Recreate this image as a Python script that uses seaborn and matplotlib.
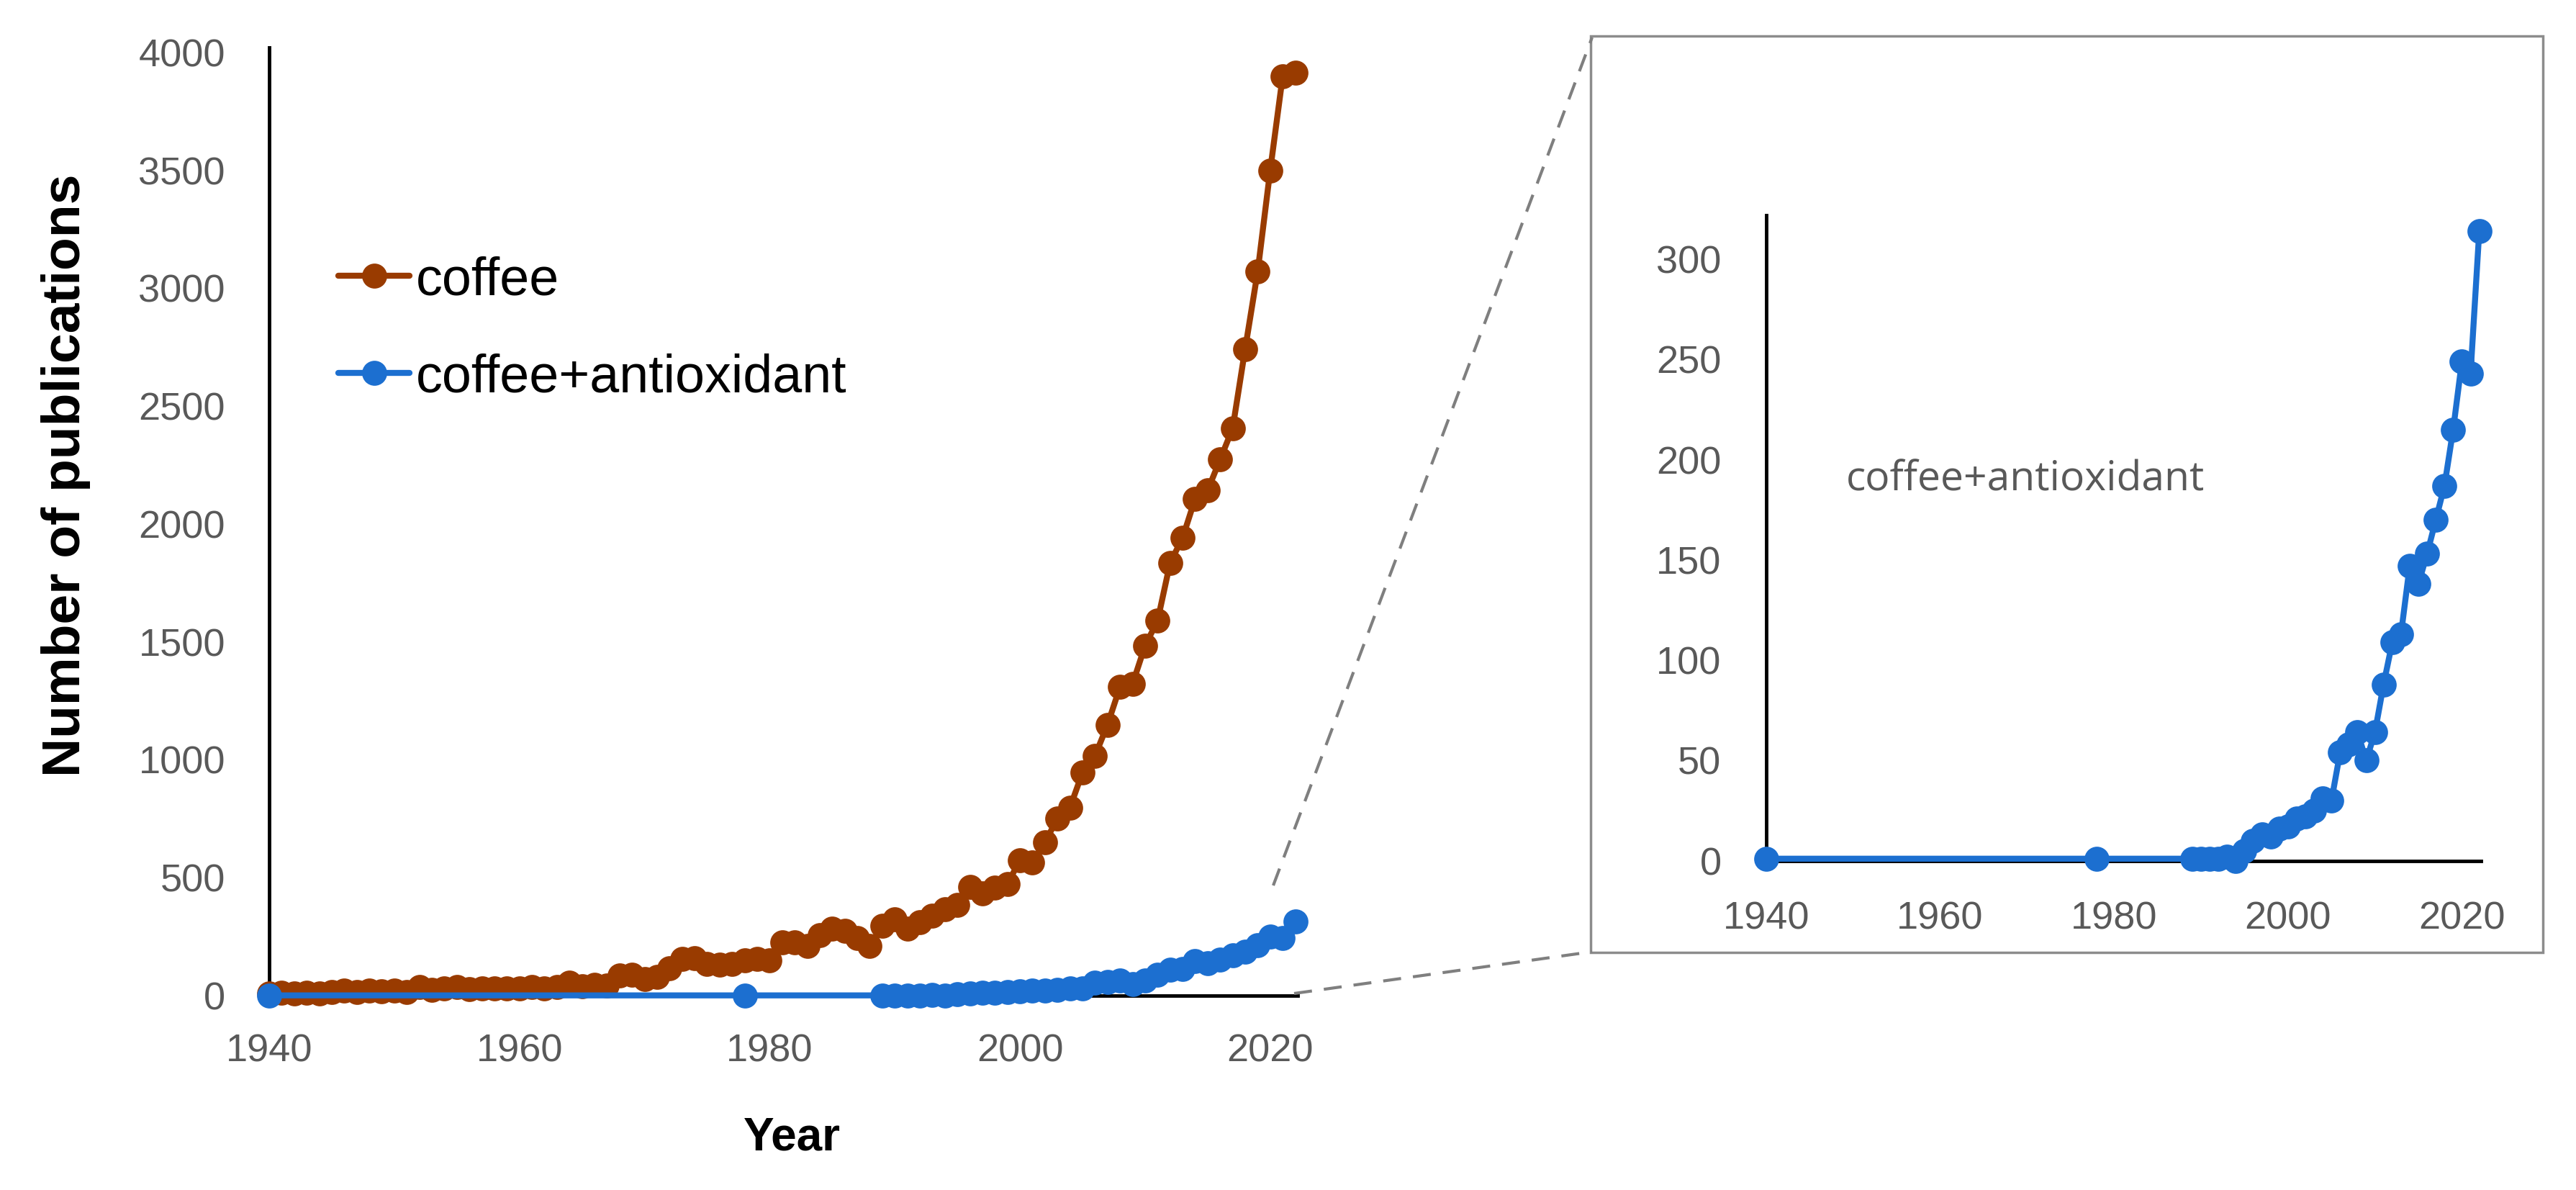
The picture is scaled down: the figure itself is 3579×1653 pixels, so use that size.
import matplotlib
matplotlib.use("Agg")
import matplotlib.pyplot as plt
from matplotlib import font_manager
from matplotlib.patches import Rectangle
from matplotlib.lines import Line2D
import seaborn as sns
import pandas as pd

# publications per year
coffee_years = list(range(1940, 2023))
coffee_counts = [
    10, 12, 10, 12, 10, 15, 20, 15, 20, 18,           # 1940-1949
    20, 15, 38, 25, 30, 38, 28, 30, 30, 32,           # 1950-1959
    30, 38, 30, 38, 55, 40, 46, 44, 85, 90,           # 1960-1969
    70, 80, 115, 155, 160, 135, 130, 135, 150, 155,   # 1970-1979
    150, 225, 225, 210, 255, 285, 275, 245, 210, 295, # 1980-1989
    325, 285, 310, 340, 365, 385, 460, 435, 458, 473, # 1990-1999
    575, 565, 650, 752, 798, 946, 1017, 1149, 1310, 1322,    # 2000-2009
    1484, 1590, 1835, 1942, 2107, 2143, 2274, 2406, 2743, 3071,  # 2010-2019
    3500, 3900, 3915,                                  # 2020-2022
]

antiox_years = [1940, 1978] + list(range(1989, 2023))
antiox_counts = [
    1, 1,
    1, 1, 1, 1, 2, 0,                 # 1989-1994
    5, 10, 13, 12, 16,                # 1995-1999
    17, 21, 22, 25, 31, 30,           # 2000-2005
    54, 58, 64, 50, 64,               # 2006-2010
    88, 109, 113, 147, 138,           # 2011-2015
    153, 170, 187, 215, 249, 243, 314,  # 2016-2022
]

year_ticks = [1940, 1960, 1980, 2000, 2020]
main_yticks = list(range(0, 4001, 500))
inset_yticks = list(range(0, 301, 50))

BROWN = "#993B00"
BLUE = "#1C6FD0"
GREY_TXT = "#595959"

df_coffee = pd.DataFrame({"Year": coffee_years, "n": coffee_counts})
df_antiox = pd.DataFrame({"Year": antiox_years, "n": antiox_counts})

sns.set_style("white")
installed = {f.name for f in font_manager.fontManager.ttflist}
if "Liberation Sans Narrow" in installed:
    tick_font, tick_size = "Liberation Sans Narrow", 44
else:
    tick_font, tick_size = "Liberation Sans", 39
plt.rcParams["font.family"] = ["Liberation Sans", "DejaVu Sans"]

W, H = 3579, 1653
fig = plt.figure(figsize=(W / 100, H / 100), dpi=100)


def fx(px):
    return px / W


def fy(py):
    return 1 - py / H


line_kw = dict(marker="o", markersize=25, linewidth=6, markeredgewidth=0,
               clip_on=False, zorder=3)

# main chart
ax = fig.add_axes([fx(374), fy(1383), fx(1429), 1316.6 / H])
sns.lineplot(data=df_coffee, x="Year", y="n", color=BROWN, label="coffee",
             ax=ax, **line_kw)
sns.lineplot(data=df_antiox, x="Year", y="n", color=BLUE,
             label="coffee+antioxidant", ax=ax, **line_kw)
ax.set_xlim(1940, 2022.2)
ax.set_ylim(0, 4020)
ax.set_xticks(year_ticks)
ax.set_yticks(main_yticks)
for sp in ["top", "right"]:
    ax.spines[sp].set_visible(False)
for sp in ["left", "bottom"]:
    ax.spines[sp].set_color("black")
    ax.spines[sp].set_linewidth(3.5)
ax.tick_params(axis="both", length=0, labelcolor=GREY_TXT, labelsize=tick_size)
ax.tick_params(axis="y", pad=44)
ax.tick_params(axis="x", pad=38)
for lab in ax.get_xticklabels() + ax.get_yticklabels():
    lab.set_fontfamily(tick_font)
ax.set_xlabel("Year", fontsize=46, fontweight="bold", family=tick_font,
              color="black")
ax.set_ylabel("Number of publications", fontsize=54, fontweight="bold",
              family=tick_font, color="black")
ax.xaxis.set_label_coords((1100 - 374) / 1429, -(1580 - 1383) / 1316.6)
ax.yaxis.set_label_coords(-(374 - 92) / 1429, (1383 - 660) / 1316.6)
ax.xaxis.label.set_va("center")
ax.yaxis.label.set_va("center")

leg = ax.legend(loc="upper left", bbox_to_anchor=(fx(470), fy(355)),
                bbox_transform=fig.transFigure, frameon=False, fontsize=53,
                handlelength=1.35, handletextpad=0.12, labelspacing=0.9,
                borderpad=0, borderaxespad=0)
for t in leg.get_texts():
    t.set_color("black")

# zoomed inset for coffee+antioxidant
fig.patches.append(Rectangle((fx(2210), fy(1323)), fx(3533 - 2210),
                             (1323 - 50) / H, transform=fig.transFigure,
                             fill=False, edgecolor="#8C8C8C", linewidth=2.5))
ax2 = fig.add_axes([fx(2454), fy(1195.6), fx(993), 896.8 / H])
sns.lineplot(data=df_antiox, x="Year", y="n", color=BLUE, ax=ax2,
             legend=False, **line_kw)
ax2.set_xlim(1940, 2022.2)
ax2.set_ylim(0, 322)
ax2.set_xticks(year_ticks)
ax2.set_yticks(inset_yticks)
for sp in ["top", "right"]:
    ax2.spines[sp].set_visible(False)
for sp in ["left", "bottom"]:
    ax2.spines[sp].set_color("black")
    ax2.spines[sp].set_linewidth(3.5)
ax2.tick_params(axis="both", length=0, labelcolor=GREY_TXT, labelsize=tick_size)
ax2.tick_params(axis="y", pad=45)
ax2.tick_params(axis="x", pad=40)
for lab in ax2.get_xticklabels() + ax2.get_yticklabels():
    lab.set_fontfamily(tick_font)
ax2.set_xlabel("")
ax2.set_ylabel("")
fig.text(fx(2565), fy(667), "coffee+antioxidant", fontsize=41,
         color=GREY_TXT, family=["Open Sans", "DejaVu Sans"],
         ha="left", va="center")

# dashed connectors from main chart to inset box
for (x0, y0), (x1, y1) in [((1769, 1230), (2212, 52)),
                           ((1798, 1380), (2212, 1322))]:
    fig.lines.append(Line2D([fx(x0), fx(x1)], [fy(y0), fy(y1)],
                            transform=fig.transFigure, color="#7F7F7F",
                            linewidth=3, linestyle=(0, (6, 4))))

fig.savefig("out.png", dpi=100)
